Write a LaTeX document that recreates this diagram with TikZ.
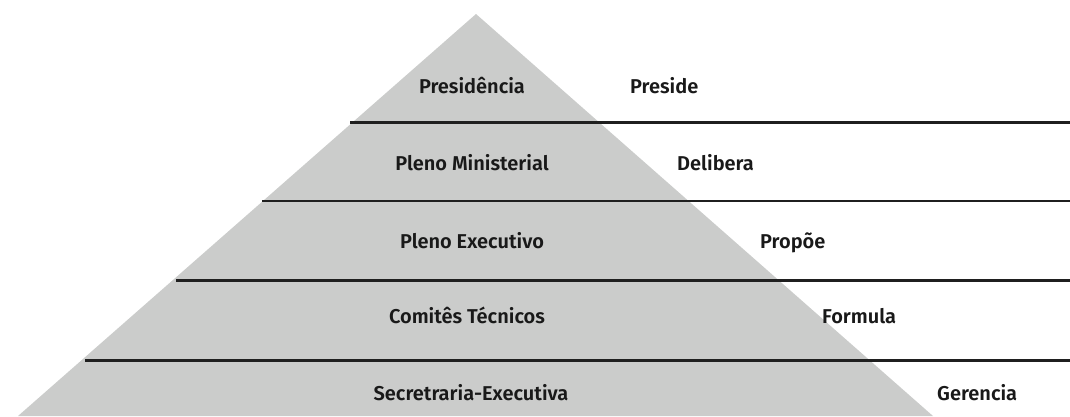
\documentclass[tikz,border=0pt]{standalone}
\usepackage{fontspec}
\setmainfont{Fira Sans}[BoldFont={Fira Sans SemiBold}]
\begin{document}
\begin{tikzpicture}[x=1pt,y=-1pt,
  lab/.style={inner sep=0pt,font=\fontsize{20}{24}\selectfont\bfseries,text=black!90},
  rlab/.style={lab,anchor=base west},
  clab/.style={lab,anchor=base},
  sep/.style={line width=2.6pt,draw=black!88}]
\useasboundingbox (0,0) rectangle (1070,416);
\definecolor{pyr}{HTML}{CBCCCB}
\coordinate (apex) at (476,14);
\coordinate (bl) at (18,416);
\coordinate (br) at (933,416);
\fill[pyr] (apex) -- (bl) -- (br) -- cycle;
\coordinate (a1) at (350,122.7); \coordinate (b1) at (1070,122.7);
\coordinate (a2) at (262,201); \coordinate (b2) at (1070,201);
\coordinate (a3) at (176,280.7); \coordinate (b3) at (1070,280.7);
\coordinate (a4) at (85,360.7); \coordinate (b4) at (1070,360.7);
\draw[sep] (a1) -- (b1);
\draw[sep] (a2) -- (b2);
\draw[sep] (a3) -- (b3);
\draw[sep] (a4) -- (b4);
\node[clab] (l1) at (472,93) {Presidência};
\node[clab] (l2) at (472,170) {Pleno Ministerial};
\node[clab] (l3) at (472,248) {Pleno Executivo};
\node[clab] (l4) at (467,323) {Comitês Técnicos};
\node[clab] (l5) at (471,400) {Secretraria-Executiva};
\node[rlab] (r1) at (630,93) {Preside};
\node[rlab] (r2) at (677,170) {Delibera};
\node[rlab] (r3) at (760,248) {Propõe};
\node[rlab] (r4) at (822,323) {Formula};
\node[rlab] (r5) at (937,400) {Gerencia};
\end{tikzpicture}
\end{document}
